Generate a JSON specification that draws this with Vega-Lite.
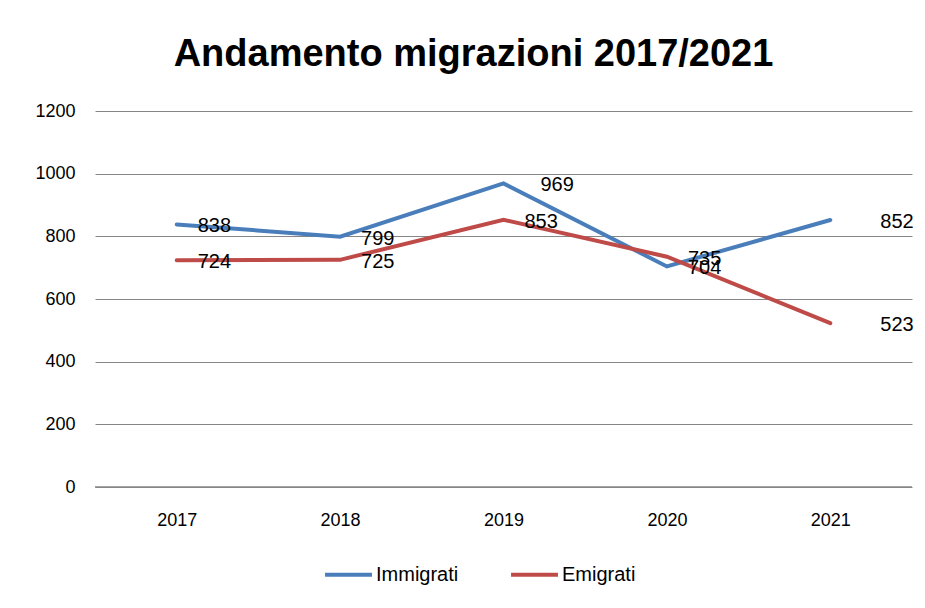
{
  "$schema": "https://vega.github.io/schema/vega-lite/v6.json",
  "width": 817,
  "height": 376,
  "autosize": {"type": "none"},
  "padding": {"left": 95, "top": 111, "right": 13, "bottom": 121},
  "background": "white",
  "title": {
    "text": "Andamento migrazioni 2017/2021",
    "font": "Liberation Sans",
    "fontSize": 38,
    "fontWeight": "bold",
    "color": "#000000",
    "anchor": "middle",
    "dx": -30,
    "offset": 28
  },
  "data": {
    "values": [
      {"year": "2017", "series": "Immigrati", "value": 838},
      {"year": "2018", "series": "Immigrati", "value": 799},
      {"year": "2019", "series": "Immigrati", "value": 969},
      {"year": "2020", "series": "Immigrati", "value": 704},
      {"year": "2021", "series": "Immigrati", "value": 852},
      {"year": "2017", "series": "Emigrati", "value": 724},
      {"year": "2018", "series": "Emigrati", "value": 725},
      {"year": "2019", "series": "Emigrati", "value": 853},
      {"year": "2020", "series": "Emigrati", "value": 735},
      {"year": "2021", "series": "Emigrati", "value": 523}
    ]
  },
  "encoding": {
    "x": {
      "field": "year",
      "type": "ordinal",
      "scale": {"type": "point", "padding": 0.5},
      "axis": {
        "title": null,
        "labelAngle": 0,
        "ticks": false,
        "domain": false,
        "grid": false,
        "labelPadding": 24,
        "labelFont": "Liberation Sans",
        "labelFontSize": 18,
        "labelColor": "#000000"
      }
    },
    "y": {
      "field": "value",
      "type": "quantitative",
      "scale": {"domain": [0, 1200], "nice": false},
      "axis": {
        "title": null,
        "values": [0, 200, 400, 600, 800, 1000, 1200],
        "format": "d",
        "ticks": false,
        "domain": false,
        "grid": true,
        "gridColor": "#868686",
        "gridWidth": 1,
        "labelPadding": 20,
        "labelFont": "Liberation Sans",
        "labelFontSize": 18,
        "labelColor": "#000000"
      }
    }
  },
  "layer": [
    {
      "mark": {"type": "line", "strokeWidth": 4, "strokeCap": "round"},
      "encoding": {
        "color": {
          "field": "series",
          "type": "nominal",
          "scale": {"domain": ["Immigrati", "Emigrati"], "range": ["#4A7EBB", "#BE4B48"]},
          "legend": {
            "title": null,
            "orient": "none",
            "direction": "horizontal",
            "legendX": 228,
            "legendY": 438,
            "symbolType": "stroke",
            "symbolSize": 2200,
            "symbolStrokeWidth": 4,
            "labelFont": "Liberation Sans",
            "labelFontSize": 20,
            "labelColor": "#000000",
            "labelOffset": 2,
            "columnPadding": 44
          }
        }
      }
    },
    {
      "mark": {
        "type": "text",
        "align": "left",
        "baseline": "middle",
        "font": "Liberation Sans",
        "fontSize": 20,
        "color": "#000000",
        "dx": {"expr": "datum.year == '2021' ? 50 : (datum.year == '2019' && datum.series == 'Immigrati' ? 37 : 21)"},
        "dy": 2
      },
      "encoding": {
        "text": {"field": "value", "type": "quantitative"}
      }
    },
    {
      "data": {"values": [{"v": 0}]},
      "mark": {"type": "rule", "color": "#868686", "strokeWidth": 1.5},
      "encoding": {"y": {"field": "v", "type": "quantitative"}, "x": {"value": 0}, "x2": {"value": 817}}
    }
  ],
  "config": {"view": {"stroke": null}}
}
